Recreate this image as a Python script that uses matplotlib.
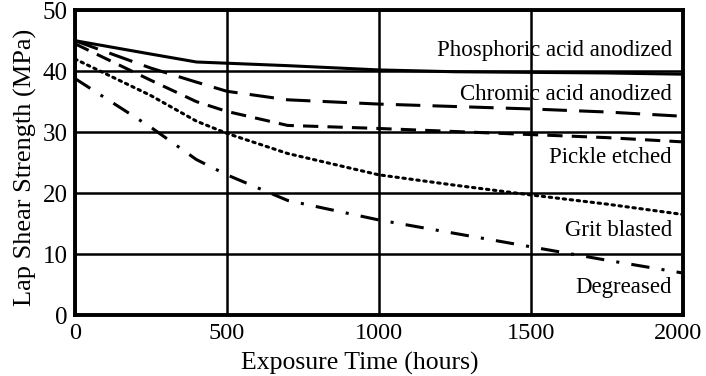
import matplotlib
matplotlib.use("Agg")
import matplotlib.pyplot as plt
from matplotlib.transforms import ScaledTranslation

plt.rcParams['font.family'] = ['Liberation Serif', 'DejaVu Serif']

hours = [0, 250, 400, 500, 700, 1000, 1250, 1500, 1750, 2000]

phosphoric = [45.0, 42.8, 41.5, 41.3, 40.9, 40.2, 39.9, 39.8, 39.7, 39.5]
chromic    = [45.0, 40.5, 38.2, 36.7, 35.3, 34.6, 34.2, 33.8, 33.3, 32.6]
pickle     = [44.5, 38.5, 35.0, 33.4, 31.1, 30.6, 30.1, 29.6, 29.1, 28.4]
grit       = [42.0, 36.0, 31.8, 29.8, 26.5, 23.0, 21.3, 19.7, 18.2, 16.5]
degreased  = [38.8, 30.8, 25.5, 23.0, 18.8, 15.6, 13.4, 11.2, 9.0, 6.9]

labels = ["Phosphoric acid anodized", "Chromic acid anodized", "Pickle etched",
          "Grit blasted", "Degreased"]
label_y = [43.4, 36.1, 25.9, 13.8, 4.6]

fig = plt.figure(figsize=(7.06, 3.76), dpi=100)
ax = fig.add_axes([0.106, 0.162, 0.861, 0.811])

ax.plot(hours, phosphoric, color='black', lw=2.2, linestyle='-')
ax.plot(hours, chromic, color='black', lw=2.2, linestyle=(0, (8, 4)))
ax.plot(hours, pickle, color='black', lw=2.2, linestyle=(0, (5, 3)))
ax.plot(hours, grit, color='black', lw=2.2, linestyle=(0, (0.8, 1.5)), dash_capstyle='round')
ax.plot(hours, degreased, color='black', lw=2.2, linestyle=(0, (6, 4, 1, 4)))

for txt, yv in zip(labels, label_y):
    ax.text(1965, yv, txt, ha='right', va='center', fontsize=16.5, color='black')

ax.set_xlim(0, 2000)
ax.set_ylim(0, 50)
ax.set_xticks([0, 500, 1000, 1500, 2000])
ax.set_yticks([0, 10, 20, 30, 40, 50])
ax.grid(True, color='black', lw=1.8)
ax.tick_params(axis='x', length=0, labelsize=17.5, pad=6)
ax.tick_params(axis='y', length=0, labelsize=18, pad=5)
for s in ax.spines.values():
    s.set_linewidth(2.8)

# keep the last x tick label inside the figure edge
fig.canvas.draw()
last = ax.get_xticklabels()[-1]
last.set_transform(last.get_transform() + ScaledTranslation(-5 / 100, 0, fig.dpi_scale_trans))

ax.set_xlabel("Exposure Time (hours)", fontsize=18.5, labelpad=0)
ax.xaxis.set_label_coords(0.469, -0.12)
ax.set_ylabel("Lap Shear Strength (MPa)", fontsize=19, labelpad=2)
ax.yaxis.set_label_coords(-0.063, 0.485)

fig.savefig("out.png", dpi=100)
